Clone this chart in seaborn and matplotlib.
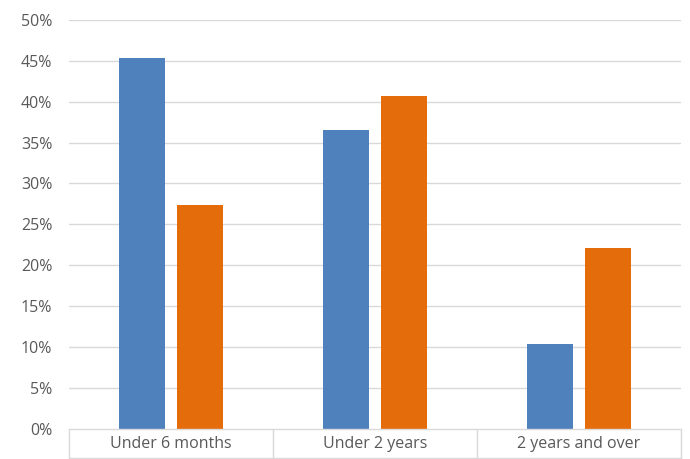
import pandas as pd
import matplotlib
matplotlib.use("Agg")
import matplotlib.pyplot as plt
import matplotlib.transforms as mtransforms
import seaborn as sns

# Values (percent)
categories = ["Under 6 months", "Under 2 years", "2 years and over"]
series_names = ["Series 1", "Series 2"]
series_1 = [45.3, 36.5, 10.4]
series_2 = [27.4, 40.7, 22.1]
y_ticks = [0, 5, 10, 15, 20, 25, 30, 35, 40, 45, 50]
colors = ["#4f81bd", "#e46c0a"]

df = pd.DataFrame({
    "category": categories * 2,
    "series": [series_names[0]] * 3 + [series_names[1]] * 3,
    "value": series_1 + series_2,
})

sns.set_theme(style="white")
plt.rcParams["font.family"] = ["Open Sans", "DejaVu Sans"]

fig = plt.figure(figsize=(6.9, 4.59), dpi=100)
ax = fig.add_axes([0.1, 0.0643, 0.887, 0.8932])

sns.barplot(data=df, x="category", y="value", hue="series", order=categories,
            palette=colors, width=0.566, gap=0.21, saturation=1, legend=False,
            linewidth=0, ax=ax)

grid_col = "#d9d9d9"
ax.set_ylim(0, 50)
ax.set_xlim(-0.5, 2.5)
ax.set_yticks(y_ticks)
ax.set_yticklabels([f"{t}%" for t in y_ticks])
for t in y_ticks[1:]:
    ax.axhline(t, color=grid_col, lw=1, zorder=0)
ax.set_axisbelow(True)

for side in ["top", "right", "left"]:
    ax.spines[side].set_visible(False)
ax.spines["bottom"].set_color(grid_col)
ax.spines["bottom"].set_linewidth(1)

ax.set_xlabel("")
ax.set_ylabel("")
ax.tick_params(axis="x", length=0, pad=5, labelsize=11.5, labelcolor="#595959")
ax.tick_params(axis="y", length=0, pad=12, labelsize=11.5, labelcolor="#595959")

# boxed category labels below the axis
trans = mtransforms.blended_transform_factory(ax.transData, ax.transAxes)
box_bottom = -28.5 / 410
for xb in [-0.5, 0.5, 1.5, 2.5]:
    ax.plot([xb, xb], [0, box_bottom], color=grid_col, lw=1, transform=trans, clip_on=False)
ax.plot([-0.5, 2.5], [box_bottom, box_bottom], color=grid_col, lw=1, transform=trans, clip_on=False)

fig.savefig("out.png", dpi=100)
